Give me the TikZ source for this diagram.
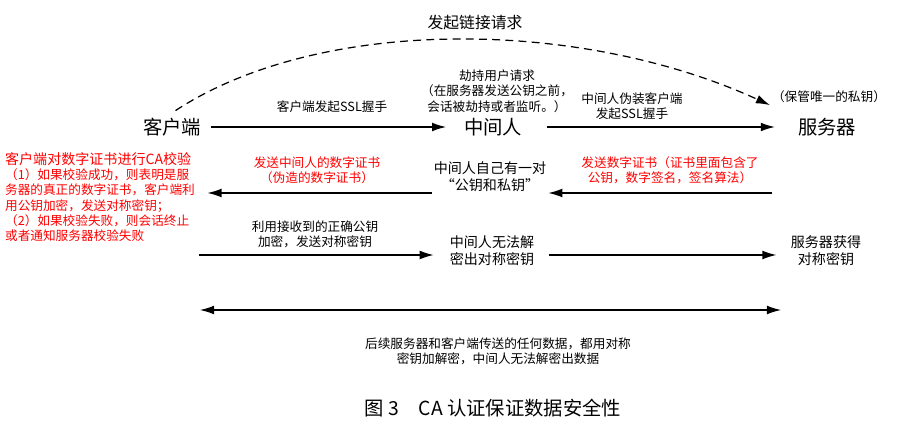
\documentclass[tikz,border=0pt]{standalone}
\usepackage{fontspec}
\setmainfont{Noto Sans CJK SC}
\usetikzlibrary{arrows.meta, positioning}

\begin{document}
\begin{tikzpicture}[
    x=0.02cm, y=-0.02cm,
    big/.style = {font=\fontsize{11}{13}\selectfont, inner sep=2pt},
    mid/.style = {font=\fontsize{8}{9.6}\selectfont, align=center, inner sep=1pt},
    note/.style = {font=\fontsize{7.2}{8.7}\selectfont, align=center, inner sep=1pt},
    warn/.style = {note, text=red},
    arrow/.style = {line width=0.7pt, -{Latex[length=8pt, width=5pt]}},
    dasharrow/.style = {arrow, dash pattern=on 4.5pt off 3pt},
    bothway/.style = {line width=0.7pt, {Latex[length=8pt, width=5pt]}-{Latex[length=8pt, width=5pt]}}
]
    \useasboundingbox (0,0) rectangle (905,425);

    % Title of the dashed request
    \node[mid, font=\fontsize{9}{11}\selectfont] (req) at (475,23) {发起链接请求};

    % Parties
    \node[big] (client) at (172,127) {客户端};
    \node[big] (mitm) at (493,127) {中间人};
    \node[big] (server) at (827,127) {服务器};

    % Handshake labels
    \node[note] (hs1) at (332,107) {客户端发起SSL握手};
    \node[note] (hijack) at (497,91) {劫持用户请求\\（在服务器发送公钥之前，\\会话被劫持或者监听。）};
    \node[note] (hs2) at (632,106) {中间人伪装客户端\\发起SSL握手};
    \node[note] (privkey) at (829,97) {（保管唯一的私钥）};

    % Certificate exchange
    \node[warn, align=left, anchor=west, font=\fontsize{7.2}{8.6}\selectfont] (check) at (3,197) {%
        {\fontsize{8}{8.6}\selectfont 客户端对数字证书进行CA校验}\\
        （1）如果校验成功，则表明是服\\
        务器的真正的数字证书，客户端利\\
        用公钥加密，发送对称密钥；\\
        （2）如果校验失败，则会话终止\\
        或者通知服务器校验失败};
    \node[warn] (fake) at (317,170) {发送中间人的数字证书\\（伪造的数字证书）};
    \node[mid] (ownkey) at (490,177) {中间人自己有一对\\“公钥和私钥”};
    \node[warn] (cert) at (670,170) {发送数字证书（证书里面包含了\\公钥，数字签名，签名算法）};
    \coordinate (certsrc) at (772,193);

    % Symmetric key
    \node[note] (enc) at (315,234) {利用接收到的正确公钥\\加密，发送对称密钥};
    \node[mid] (nocrack) at (492,251) {中间人无法解\\密出对称密钥};
    \node[mid] (srvkey) at (826,251) {服务器获得\\对称密钥};
    \coordinate (encsrc) at (199,255);

    % Later traffic
    \coordinate (datal) at (200,310);
    \coordinate (datar) at (781,310);
    \node[note] (data) at (498,351) {后续服务器和客户端传送的任何数据，都用对称\\密钥加解密，中间人无法解密出数据};

    % Caption
    \node[font=\fontsize{11}{13}\selectfont] (caption) at (493,408) {图 3\quad CA 认证保证数据安全性};

    % Arrows
    \draw[dasharrow] ([xshift=2pt, yshift=2pt]client.north) .. controls (320,16) and (580,18) .. (privkey.south west);
    \draw[arrow, shorten <=3.5pt, shorten >=8pt] (client) -- (mitm);
    \draw[arrow, shorten <=12pt, shorten >=11pt] (mitm) -- (server);

    \draw[arrow] (certsrc) -- (certsrc -| ownkey.east);
    \draw[arrow, shorten >=6pt] (ownkey.west |- certsrc) -- (check.east |- certsrc);

    \draw[arrow, shorten >=8pt] (encsrc) -- (encsrc -| nocrack.west);
    \draw[arrow, shorten <=7pt, shorten >=7pt] (nocrack.east |- encsrc) -- (srvkey.west |- encsrc);

    \draw[bothway] (datal) -- (datar);

\end{tikzpicture}
\end{document}
